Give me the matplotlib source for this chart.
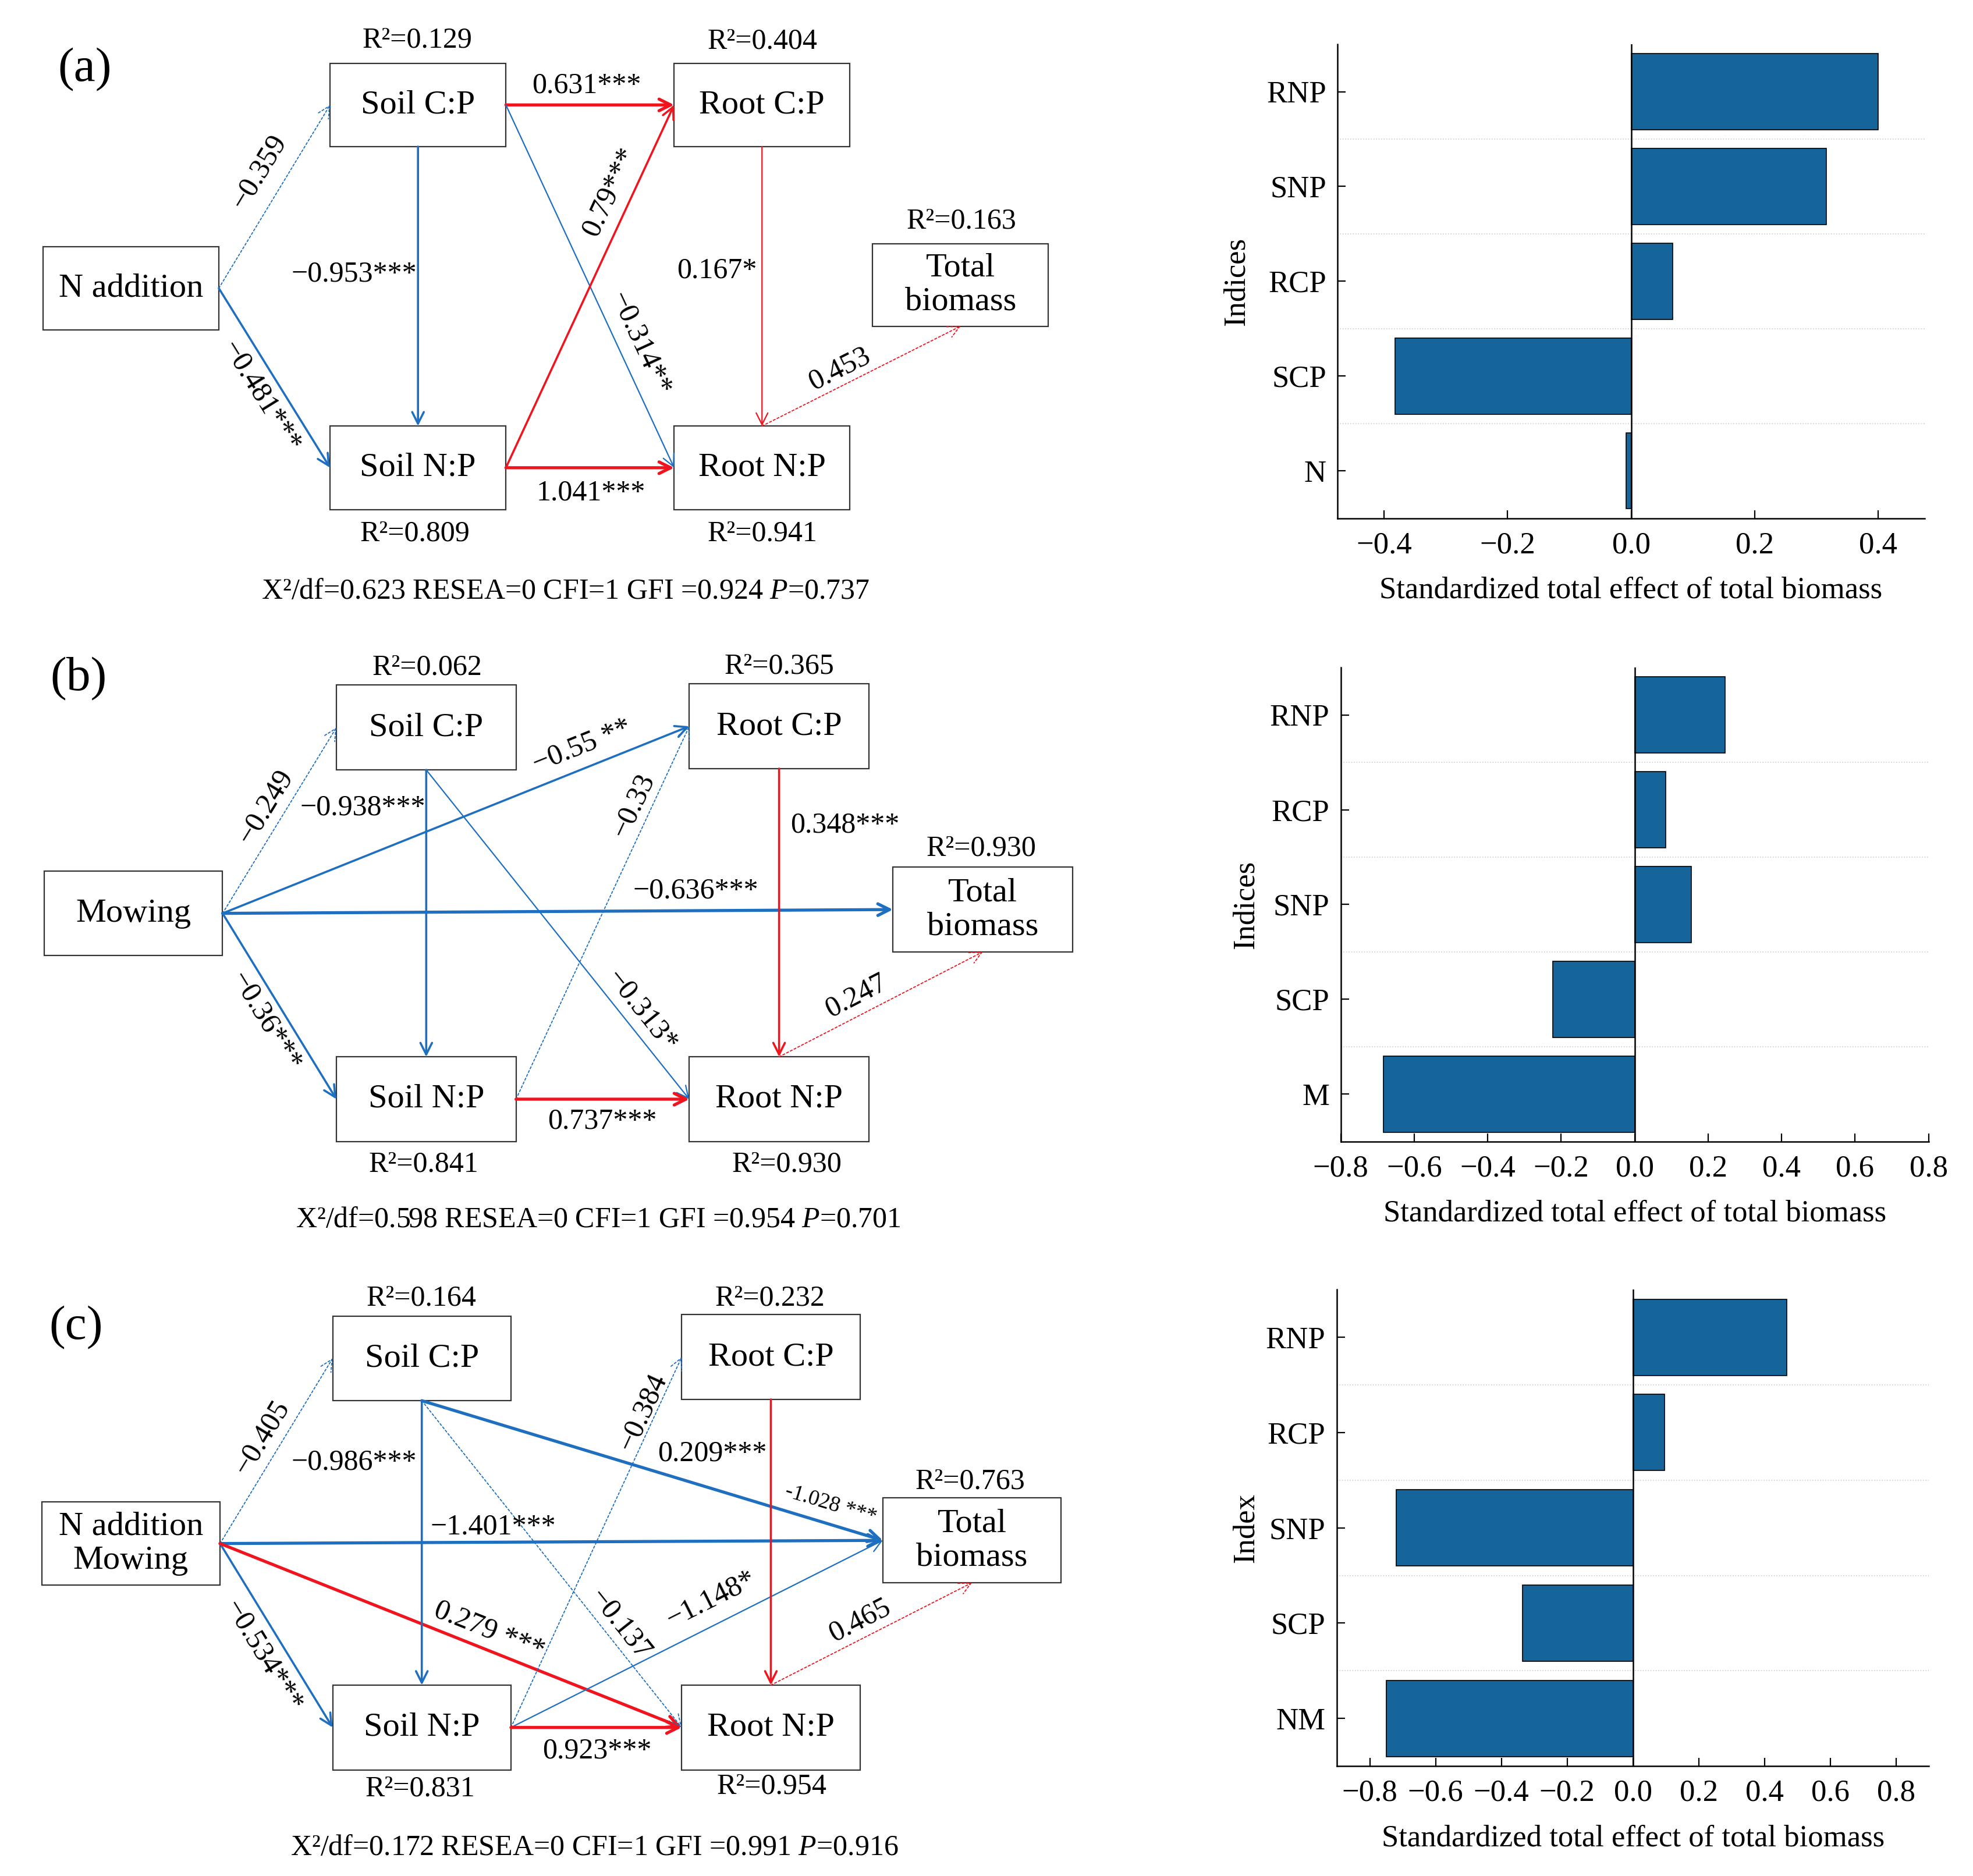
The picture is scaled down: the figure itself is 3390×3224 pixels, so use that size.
import math
import matplotlib
matplotlib.use('Agg')
import matplotlib.pyplot as plt
from matplotlib.patches import Rectangle

plt.rcParams['font.family'] = ['Liberation Serif', 'DejaVu Serif']
plt.rcParams['mathtext.fontset'] = 'custom'
plt.rcParams['mathtext.rm'] = 'Liberation Serif'
plt.rcParams['mathtext.it'] = 'Liberation Serif:italic'

# ---- bar chart data (standardized total effects on total biomass) ----
cats_a = ['N', 'SCP', 'RCP', 'SNP', 'RNP']
vals_a = [-0.008, -0.382, 0.067, 0.316, 0.400]

cats_b = ['M', 'SCP', 'SNP', 'RCP', 'RNP']
vals_b = [-0.684, -0.222, 0.154, 0.085, 0.246]

cats_c = ['NM', 'SCP', 'SNP', 'RCP', 'RNP']
vals_c = [-0.750, -0.336, -0.719, 0.097, 0.468]

# ---- SEM text ----
r2_a = {'sc': '0.129', 'rc': '0.404', 'tb': '0.163', 'sn': '0.809', 'rn': '0.941'}
r2_b = {'sc': '0.062', 'rc': '0.365', 'tb': '0.930', 'sn': '0.841', 'rn': '0.930'}
r2_c = {'sc': '0.164', 'rc': '0.232', 'tb': '0.763', 'sn': '0.831', 'rn': '0.954'}
fit_a = ['0.623', '0', '1', '0.924', '0.737']
fit_b = ['0.598', '0', '1', '0.954', '0.701']
fit_c = ['0.172', '0', '1', '0.991', '0.916']

W, H = 1560, 1484
BLUE = '#1E6FC0'
RED = '#F0141E'
BAR = '#16659A'
styles = {
    'thick': 3.8, 'med': 2.6, 'thin': 1.6, 'dot': 1.3,
}

fig = plt.figure(figsize=(33.9, 32.24), dpi=100)
ax = fig.add_axes([0, 0, 1, 1])
ax.set_xlim(0, W)
ax.set_ylim(H, 0)
ax.axis('off')


def side(b, s):
    x0, y0, x1, y1 = b
    if s == 'l':
        return (x0, (y0 + y1) / 2)
    if s == 'r':
        return (x1, (y0 + y1) / 2)
    if s == 't':
        return ((x0 + x1) / 2, y0)
    return ((x0 + x1) / 2, y1)


def draw_panel(boxes, names, r2, r2pos, edges, fit, fitpos, letter, letterpos):
    for k, b in boxes.items():
        x0, y0, x1, y1 = b
        ax.add_patch(Rectangle((x0, y0), x1 - x0, y1 - y0, fill=False,
                               lw=1.6, edgecolor='#333333', zorder=3))
        ax.text((x0 + x1) / 2, (y0 + y1) / 2, names[k], fontsize=42,
                ha='center', va='center', linespacing=1.15, zorder=4)
    for k, v in r2.items():
        ax.text(r2pos[k][0], r2pos[k][1], 'R²=' + v, fontsize=36,
                ha='center', va='center')
    for src, ss, dst, ds, kind, col, lab, lx, ly, rot, fs in edges:
        p = side(boxes[src], ss)
        q = side(boxes[dst], ds)
        color = BLUE if col == 'b' else RED
        ls = (0, (2, 2)) if kind == 'dot' else '-'
        ax.annotate('', xy=q, xytext=p,
                    arrowprops=dict(arrowstyle='->,head_length=0.6,head_width=0.3',
                                    color=color, lw=styles[kind], linestyle=ls,
                                    shrinkA=0, shrinkB=0, mutation_scale=24))
        if rot:
            ang = math.degrees(math.atan2(-(q[1] - p[1]), q[0] - p[0]))
        else:
            ang = 0
        ax.text(lx, ly, lab, fontsize=fs, ha='center', va='center',
                rotation=ang, rotation_mode='anchor', zorder=5)
    ax.text(fitpos[0], fitpos[1],
            'X²/df=%s RESEA=%s CFI=%s GFI =%s $\\it{P}$=%s' % tuple(fit),
            fontsize=36, ha='center', va='center')
    ax.text(letterpos[0], letterpos[1], letter, fontsize=60, ha='center', va='center')


# ---- panel (a) ----
boxes_a = {'sc': (261, 50, 400, 116), 'rc': (533, 50, 672, 116),
           'na': (34, 195, 173, 261), 'tb': (690, 193, 829, 258),
           'sn': (261, 337, 400, 403), 'rn': (533, 337, 672, 403)}
names_a = {'sc': 'Soil C:P', 'rc': 'Root C:P', 'na': 'N addition',
           'tb': 'Total\nbiomass', 'sn': 'Soil N:P', 'rn': 'Root N:P'}
r2pos_a = {'sc': (330, 32), 'rc': (603, 33), 'tb': (760, 175),
           'sn': (328, 422), 'rn': (603, 422)}
edges_a = [
    ('na', 'r', 'sc', 'l', 'dot', 'b', '−0.359', 205, 136, True, 36),
    ('na', 'r', 'sn', 'l', 'med', 'b', '−0.481***', 206, 314, True, 36),
    ('sc', 'b', 'sn', 't', 'med', 'b', '−0.953***', 280, 217, False, 36),
    ('sc', 'r', 'rc', 'l', 'thick', 'r', '0.631***', 464, 68, False, 36),
    ('sc', 'r', 'rn', 'l', 'thin', 'b', '−0.314**', 506, 272, True, 36),
    ('sn', 'r', 'rc', 'l', 'med', 'r', '0.79***', 482, 152, True, 36),
    ('sn', 'r', 'rn', 'l', 'thick', 'r', '1.041***', 467, 390, False, 36),
    ('rc', 'b', 'rn', 't', 'thin', 'r', '0.167*', 567, 214, False, 36),
    ('rn', 't', 'tb', 'b', 'dot', 'r', '0.453', 664, 292, True, 36),
]
draw_panel(boxes_a, names_a, r2_a, r2pos_a, edges_a, fit_a, (447, 468), '(a)', (67, 55))

# ---- panel (b) ----
boxes_b = {'sc': (266, 542, 408, 609), 'rc': (545, 541, 687, 608),
           'mo': (35, 689, 176, 756), 'tb': (706, 686, 848, 753),
           'sn': (266, 836, 408, 903), 'rn': (545, 836, 687, 903)}
names_b = {'sc': 'Soil C:P', 'rc': 'Root C:P', 'mo': 'Mowing',
           'tb': 'Total\nbiomass', 'sn': 'Soil N:P', 'rn': 'Root N:P'}
r2pos_b = {'sc': (338, 528), 'rc': (616, 527), 'tb': (776, 671),
           'sn': (335, 921), 'rn': (622, 921)}
edges_b = [
    ('mo', 'r', 'sc', 'l', 'dot', 'b', '−0.249', 210, 638, True, 36),
    ('mo', 'r', 'rc', 'l', 'med', 'b', '−0.55 **', 460, 590, True, 36),
    ('mo', 'r', 'tb', 'l', 'thick', 'b', '−0.636***', 550, 705, False, 36),
    ('mo', 'r', 'sn', 'l', 'med', 'b', '−0.36***', 210, 808, True, 36),
    ('sc', 'b', 'sn', 't', 'med', 'b', '−0.938***', 287, 639, False, 36),
    ('sc', 'b', 'rn', 'l', 'thin', 'b', '−0.313*', 507, 800, True, 36),
    ('sn', 'r', 'rc', 'l', 'dot', 'b', '−0.33', 501, 637, True, 36),
    ('sn', 'r', 'rn', 'l', 'thick', 'r', '0.737***', 476, 887, False, 36),
    ('rc', 'b', 'rn', 't', 'med', 'r', '0.348***', 668, 653, False, 36),
    ('rn', 't', 'tb', 'b', 'dot', 'r', '0.247', 677, 788, True, 36),
]
draw_panel(boxes_b, names_b, r2_b, r2pos_b, edges_b, fit_b, (473, 965), '(b)', (62, 537))

# ---- panel (c) ----
boxes_c = {'sc': (263, 1041, 404, 1108), 'rc': (539, 1040, 680, 1107),
           'nm': (33, 1188, 174, 1254), 'tb': (698, 1185, 839, 1252),
           'sn': (263, 1333, 404, 1400), 'rn': (539, 1333, 680, 1400)}
names_c = {'sc': 'Soil C:P', 'rc': 'Root C:P', 'nm': 'N addition\nMowing',
           'tb': 'Total\nbiomass', 'sn': 'Soil N:P', 'rn': 'Root N:P'}
r2pos_c = {'sc': (333, 1027), 'rc': (609, 1027), 'tb': (767, 1172),
           'sn': (332, 1415), 'rn': (610, 1413)}
edges_c = [
    ('nm', 'r', 'sc', 'l', 'dot', 'b', '−0.405', 207, 1137, True, 36),
    ('nm', 'r', 'sn', 'l', 'med', 'b', '−0.534***', 208, 1310, True, 36),
    ('nm', 'r', 'tb', 'l', 'thick', 'b', '−1.401***', 390, 1208, False, 36),
    ('nm', 'r', 'rn', 'l', 'thick', 'r', '0.279 ***', 387, 1290, True, 36),
    ('sc', 'b', 'sn', 't', 'med', 'b', '−0.986***', 280, 1157, False, 36),
    ('sc', 'b', 'tb', 'l', 'thick', 'b', '-1.028 ***', 657, 1190, True, 27),
    ('sc', 'b', 'rn', 'l', 'dot', 'b', '−0.137', 490, 1285, True, 36),
    ('sn', 'r', 'rc', 'l', 'dot', 'b', '−0.384', 508, 1117, True, 36),
    ('sn', 'r', 'tb', 'l', 'thin', 'b', '−1.148*', 562, 1265, True, 36),
    ('sn', 'r', 'rn', 'l', 'thick', 'r', '0.923***', 472, 1385, False, 36),
    ('rc', 'b', 'rn', 't', 'med', 'r', '0.209***', 563, 1150, False, 36),
    ('rn', 't', 'tb', 'b', 'dot', 'r', '0.465', 680, 1282, True, 36),
]
draw_panel(boxes_c, names_c, r2_c, r2pos_c, edges_c, fit_c, (470, 1462), '(c)', (60, 1050))


# ---- bar charts ----
def bar_panel(rect, cats, vals, xlim, xticks, ylab, ylab_x):
    b = fig.add_axes(rect)
    y = list(range(len(cats)))
    b.barh(y, vals, height=0.8, color=BAR, edgecolor='black', linewidth=1.2, zorder=3)
    b.axvline(0, color='black', lw=1.8, zorder=4)
    b.set_ylim(-0.5, len(cats) - 0.5)
    b.set_xlim(*xlim)
    b.set_yticks(y)
    b.set_yticklabels(cats)
    b.set_xticks(xticks)
    b.set_xticklabels(['%.1f' % t if t >= 0 else '−%.1f' % -t for t in xticks])
    b.set_yticks([i + 0.5 for i in y[:-1]], minor=True)
    b.tick_params(axis='y', which='minor', length=0)
    b.grid(True, axis='y', which='minor', color='#cccccc', linestyle=':', lw=1.2)
    b.tick_params(axis='both', which='major', direction='in', length=10, width=1.6,
                  labelsize=38)
    b.tick_params(axis='y', which='major', pad=14)
    b.tick_params(axis='x', which='major', pad=16)
    for s in ['top', 'right']:
        b.spines[s].set_visible(False)
    for s in ['left', 'bottom']:
        b.spines[s].set_linewidth(1.8)
    b.set_xlabel('Standardized total effect of total biomass', fontsize=38, va='center')
    b.xaxis.set_label_coords(0.5, -0.152)
    b.set_ylabel(ylab, fontsize=38, va='center')
    b.yaxis.set_label_coords(ylab_x, 0.5)
    return b


bar_panel([0.678, 0.7237, 0.2974, 0.2527], cats_a, vals_a, (-0.475, 0.475),
          [-0.4, -0.2, 0.0, 0.2, 0.4], 'Indices', -0.172)
bar_panel([0.6795, 0.3915, 0.298, 0.2527], cats_b, vals_b, (-0.8, 0.8),
          [-0.8, -0.6, -0.4, -0.2, 0.0, 0.2, 0.4, 0.6, 0.8], 'Indices', -0.161)
bar_panel([0.6776, 0.0586, 0.300, 0.254], cats_c, vals_c, (-0.9, 0.9),
          [-0.8, -0.6, -0.4, -0.2, 0.0, 0.2, 0.4, 0.6, 0.8], 'Index', -0.154)

fig.savefig('out.png', dpi=100)
